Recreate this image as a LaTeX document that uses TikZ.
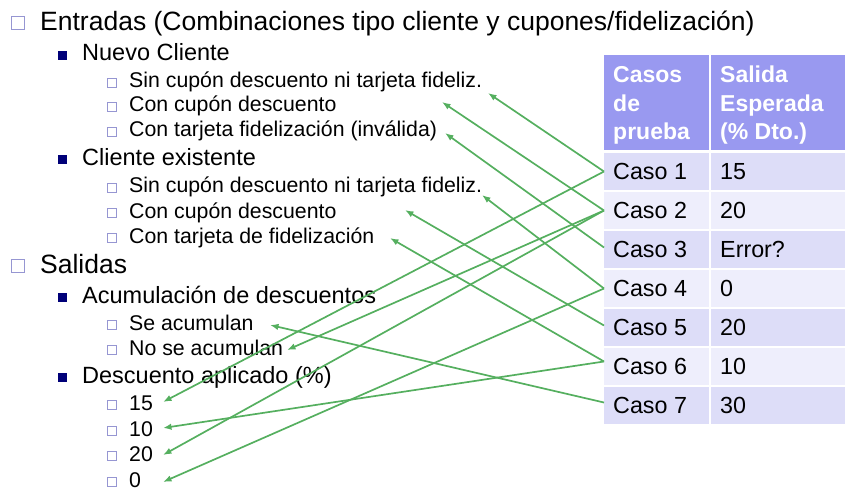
\documentclass[tikz,border=0pt]{standalone}
\usepackage{fontspec}
\setmainfont{Liberation Sans}
\usetikzlibrary{arrows.meta}
\definecolor{boxcol}{RGB}{150,150,210}
\definecolor{navyb}{RGB}{0,0,120}
\definecolor{hdr}{RGB}{153,153,240}
\definecolor{rowA}{RGB}{221,221,248}
\definecolor{rowB}{RGB}{238,238,252}
\definecolor{conncol}{RGB}{85,175,95}
\begin{document}
\begin{tikzpicture}[x=1pt,y=-1pt,
  lone/.style={anchor=base west,inner sep=0pt,font=\fontsize{26.5}{30}\selectfont},
  ltwo/.style={anchor=base west,inner sep=0pt,font=\fontsize{23.5}{27}\selectfont},
  lthree/.style={anchor=base west,inner sep=0pt,font=\fontsize{21.3}{25}\selectfont},
  boxone/.style={draw=boxcol,fill=white,line width=1pt,minimum size=13pt,inner sep=0pt},
  boxthree/.style={draw=boxcol,fill=white,line width=0.9pt,minimum size=9pt,inner sep=0pt},
  bultwo/.style={fill=navyb,minimum size=9pt,inner sep=0pt},
  cell/.style={inner sep=0pt,outer sep=0pt,anchor=north west,minimum height=37pt},
  htext/.style={anchor=base west,inner sep=0pt,text=white,font=\fontsize{23}{27}\selectfont\bfseries},
  ctext/.style={anchor=base west,inner sep=0pt,font=\fontsize{23.3}{27}\selectfont},
  conn/.style={draw=conncol,line width=1.7pt,-{Latex[length=8.5pt,width=6.5pt]}}
]
\useasboundingbox (0,0) rectangle (854,492);

% ---------- list ----------
\node[boxone] (b1) at (18,23.5) {};
\node[lone] (t1) at (40,31) {Entradas (Combinaciones tipo cliente y cupones/fidelización)};
\node[bultwo] (b2) at (62.5,55.5) {};
\node[ltwo] (t2) at (82,61) {Nuevo Cliente};
\node[boxthree] (b3) at (111.5,83) {};
\node[lthree] (t3) at (129,88) {Sin cupón descuento ni tarjeta fideliz.};
\node[boxthree] (b4) at (111.5,107) {};
\node[lthree] (t4) at (129,112) {Con cupón descuento};
\node[boxthree] (b5) at (111.5,132) {};
\node[lthree] (t5) at (129,137) {Con tarjeta fidelización (inválida)};
\node[bultwo] (b6) at (62.5,159.5) {};
\node[ltwo] (t6) at (82,165) {Cliente existente};
\node[boxthree] (b7) at (111.5,188) {};
\node[lthree] (t7) at (129,193) {Sin cupón descuento ni tarjeta fideliz.};
\node[boxthree] (b8) at (111.5,213) {};
\node[lthree] (t8) at (129,218) {Con cupón descuento};
\node[boxthree] (b9) at (111.5,238) {};
\node[lthree] (t9) at (129,243) {Con tarjeta de fidelización};
\node[boxone] (b10) at (18,266) {};
\node[lone] (t10) at (40,273) {Salidas};
\node[bultwo] (b11) at (62.5,297.5) {};
\node[ltwo] (t11) at (82,303) {Acumulación de descuentos};
\node[boxthree] (b12) at (111.5,325) {};
\node[lthree] (t12) at (129,330) {Se acumulan};
\node[boxthree] (b13) at (111.5,350) {};
\node[lthree] (t13) at (129,355) {No se acumulan};
\node[bultwo] (b14) at (62.5,377.5) {};
\node[ltwo] (t14) at (82,383) {Descuento aplicado (\%)};
\node[boxthree] (b15) at (111.5,405) {};
\node[lthree] (t15) at (129,410) {15};
\node[boxthree] (b16) at (111.5,431) {};
\node[lthree] (t16) at (129,436) {10};
\node[boxthree] (b17) at (111.5,456) {};
\node[lthree] (t17) at (129,461) {20};
\node[boxthree] (b18) at (111.5,482) {};
\node[lthree] (t18) at (129,487) {0};

% ---------- table ----------
\node[cell,fill=hdr,minimum width=105pt,minimum height=95pt] (h1) at (604,55) {};
\node[cell,fill=hdr,minimum width=134pt,minimum height=95pt] (h2) at (711,55) {};
\node[htext] (h1a) at (613,83) {Casos};
\node[htext] (h1b) at (613,111.5) {de};
\node[htext] (h1c) at (613,140) {prueba};
\node[htext] (h2a) at (720,83) {Salida};
\node[htext] (h2b) at (720,111.5) {Esperada};
\node[htext] (h2c) at (720,140) {(\% Dto.)};

\node[cell,fill=rowA,minimum width=105pt] (c1) at (604,153) {};
\node[cell,fill=rowA,minimum width=134pt] (v1) at (711,153) {};
\node[cell,fill=rowB,minimum width=105pt] (c2) at (604,192) {};
\node[cell,fill=rowB,minimum width=134pt] (v2) at (711,192) {};
\node[cell,fill=rowA,minimum width=105pt] (c3) at (604,231) {};
\node[cell,fill=rowA,minimum width=134pt] (v3) at (711,231) {};
\node[cell,fill=rowB,minimum width=105pt] (c4) at (604,270) {};
\node[cell,fill=rowB,minimum width=134pt] (v4) at (711,270) {};
\node[cell,fill=rowA,minimum width=105pt] (c5) at (604,309) {};
\node[cell,fill=rowA,minimum width=134pt] (v5) at (711,309) {};
\node[cell,fill=rowB,minimum width=105pt] (c6) at (604,348) {};
\node[cell,fill=rowB,minimum width=134pt] (v6) at (711,348) {};
\node[cell,fill=rowA,minimum width=105pt] (c7) at (604,387) {};
\node[cell,fill=rowA,minimum width=134pt] (v7) at (711,387) {};

\node[ctext] (ct1) at (613,179) {Caso 1};
\node[ctext] (vt1) at (720,179) {15};
\node[ctext] (ct2) at (613,218) {Caso 2};
\node[ctext] (vt2) at (720,218) {20};
\node[ctext] (ct3) at (613,257) {Caso 3};
\node[ctext] (vt3) at (720,257) {Error?};
\node[ctext] (ct4) at (613,296) {Caso 4};
\node[ctext] (vt4) at (720,296) {0};
\node[ctext] (ct5) at (613,335) {Caso 5};
\node[ctext] (vt5) at (720,335) {20};
\node[ctext] (ct6) at (613,374) {Caso 6};
\node[ctext] (vt6) at (720,374) {10};
\node[ctext] (ct7) at (613,413) {Caso 7};
\node[ctext] (vt7) at (720,413) {30};

% ---------- arrow targets ----------
\coordinate (a1) at (488,93);
\coordinate (a2) at (442,102);
\coordinate (a3) at (445,133);
\coordinate (a4) at (482,195);
\coordinate (a5) at (405,210);
\coordinate (a6) at (390,238);
\coordinate (a7) at (270,325);
\coordinate (a8) at (287,350);
\coordinate (a9) at (163,402);
\coordinate (a10) at (163,428);
\coordinate (a11) at (163,455);
\coordinate (a12) at (163,482);

% ---------- connectors ----------
\draw[conn] (c1.west) -- (a1);
\draw[conn] (c1.west) -- (a9);
\draw[conn] (c2.west) -- (a2);
\draw[conn] (c2.west) -- (a8);
\draw[conn] (c2.west) -- (a11);
\draw[conn] ([yshift=2pt]c3.west) -- (a3);
\draw[conn] (c4.west) -- (a4);
\draw[conn] (c4.west) -- (a12);
\draw[conn] ([yshift=2pt]c5.west) -- (a5);
\draw[conn] ([yshift=5pt]c6.west) -- (a6);
\draw[conn] ([yshift=5pt]c6.west) -- (a10);
\draw[conn] ([yshift=3pt]c7.west) -- (a7);
\end{tikzpicture}
\end{document}
